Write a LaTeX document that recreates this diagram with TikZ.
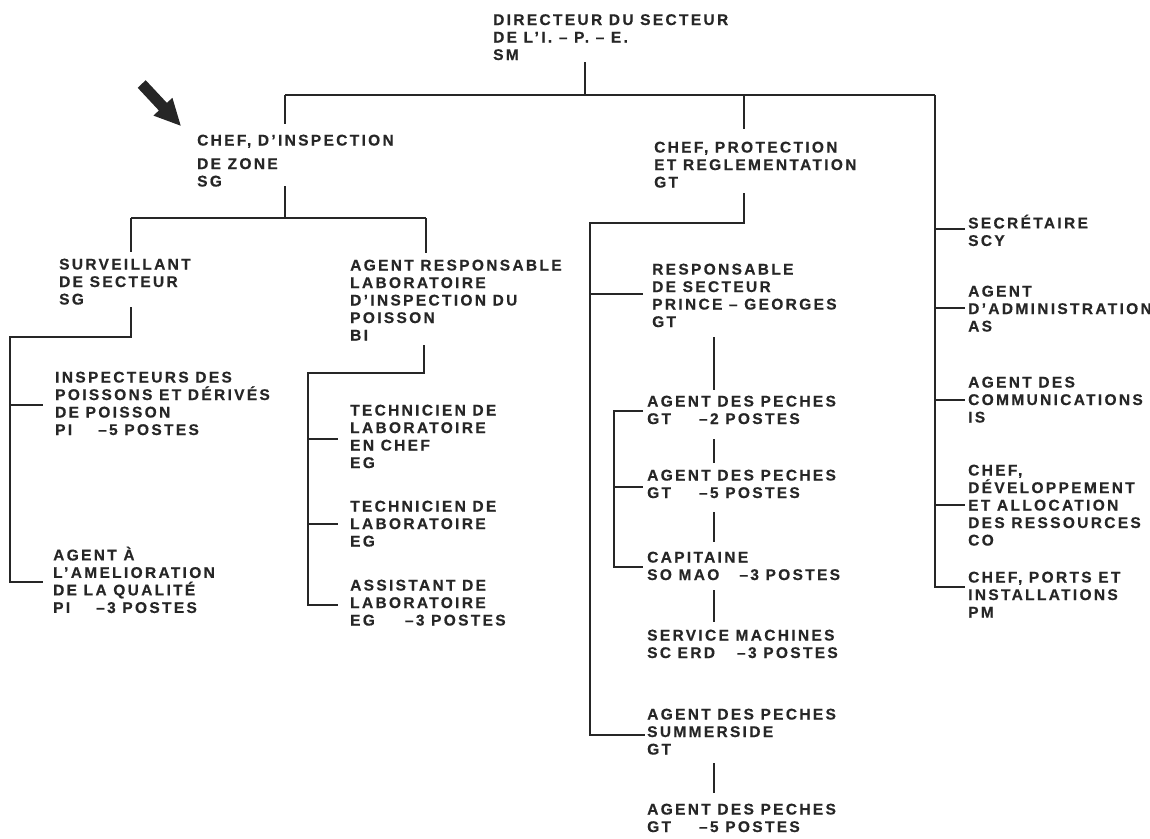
\documentclass[tikz,border=0pt]{standalone}
\usepackage{fontspec}
\newfontfamily\orgfont{Liberation Sans Bold}[LetterSpace=15, FakeBold=0.5]
\definecolor{ink}{HTML}{262626}
\tikzset{
  blk/.style={font=\orgfont\fontsize{15.5}{17.5}\selectfont, align=left, inner sep=0pt,
    anchor=north west, yshift=14pt, text=ink, execute at begin node={\rule{0pt}{14pt}}},
  ln/.style={draw=ink, line width=1.4pt},
}
\begin{document}
\begin{tikzpicture}[x=1pt,y=-1pt]
\useasboundingbox (0,0) rectangle (1150,838);
% text blocks (coordinates = baseline of first line)
\node[blk] (dir) at (493,28) {DIRECTEUR DU SECTEUR\\DE L’I. – P. – E.\\SM};
\node[blk] (chefinsp) at (197,148.5) {CHEF, D’INSPECTION\\[6pt]DE ZONE\\SG};
\node[blk] (chefprot) at (654,155.5) {CHEF, PROTECTION\\ET REGLEMENTATION\\GT};
\node[blk] (surv) at (59,272.5) {SURVEILLANT\\DE SECTEUR\\SG};
\node[blk] (agentresp) at (350,273.5) {AGENT RESPONSABLE\\LABORATOIRE\\D’INSPECTION DU\\POISSON\\BI};
\node[blk] (insp) at (55,385.5) {INSPECTEURS DES\\POISSONS ET DÉRIVÉS\\DE POISSON\\PI\hspace{26pt}–5 POSTES};
\node[blk] (agentA) at (53,560.5) {AGENT À\\L’AMELIORATION\\DE LA QUALITÉ\\PI\hspace{26pt}–3 POSTES};
\node[blk] (tech1) at (350,418.5) {TECHNICIEN DE\\LABORATOIRE\\EN CHEF\\EG};
\node[blk] (tech2) at (350,514.5) {TECHNICIEN DE\\LABORATOIRE\\EG};
\node[blk] (assist) at (350,593.5) {ASSISTANT DE\\LABORATOIRE\\EG\hspace{30pt}–3 POSTES};
\node[blk] (resp) at (652,277.5) {RESPONSABLE\\DE SECTEUR\\PRINCE – GEORGES\\GT};
\node[blk] (ap2) at (647,409.5) {AGENT DES PECHES\\GT\hspace{28pt}–2 POSTES};
\node[blk] (ap5) at (647,483.5) {AGENT DES PECHES\\GT\hspace{28pt}–5 POSTES};
\node[blk] (cap) at (647,565.5) {CAPITAINE\\SO MAO\hspace{20pt}–3 POSTES};
\node[blk] (serv) at (647,643.5) {SERVICE MACHINES\\SC ERD\hspace{22pt}–3 POSTES};
\node[blk] (summ) at (647,722.5) {AGENT DES PECHES\\SUMMERSIDE\\GT};
\node[blk] (ap5b) at (647,817.5) {AGENT DES PECHES\\GT\hspace{28pt}–5 POSTES};
\node[blk] (secr) at (968,228.5) {SECRÉTAIRE\\SCY};
\node[blk] (admin) at (968,299.5) {AGENT\\D’ADMINISTRATION\\AS};
\node[blk] (comm) at (968,390.5) {AGENT DES\\COMMUNICATIONS\\IS};
\node[blk] (dev) at (968,478.5) {CHEF,\\DÉVELOPPEMENT\\ET ALLOCATION\\DES RESSOURCES\\CO};
\node[blk] (ports) at (968,585.5) {CHEF, PORTS ET\\INSTALLATIONS\\PM};
% pointer arrow
\fill[ink] (145.7,80.2) -- (166.9,102.9) -- (172.4,97.8) -- (180.7,125.7) -- (153.4,115.6) -- (158.9,110.5) -- (137.7,87.8) -- cycle;
% junction coordinates
\coordinate (dirS) at (585,62);
\coordinate (busD) at (585,95);
\coordinate (busL) at (285,95);
\coordinate (busM) at (744,95);
\coordinate (busR) at (935,95);
\coordinate (chefinspN) at (285,124);
\coordinate (chefprotN) at (744,129);
\coordinate (rightEnd) at (935,587);
\coordinate (portsW) at (965,587);
\coordinate (secrW) at (965,229);
\coordinate (adminW) at (965,308);
\coordinate (commW) at (965,400);
\coordinate (devW) at (965,505);
% top level
\draw[ln] (dirS) -- (busD);
\draw[ln] (busL) -- (busR);
\draw[ln] (busL) -- (chefinspN);
\draw[ln] (busM) -- (chefprotN);
\draw[ln] (busR) -- (rightEnd) -- (portsW);
\draw[ln] (secrW -| busR) -- (secrW);
\draw[ln] (adminW -| busR) -- (adminW);
\draw[ln] (commW -| busR) -- (commW);
\draw[ln] (devW -| busR) -- (devW);
% zone inspection branch
\coordinate (ciS) at (285,186);
\coordinate (ciBus) at (285,218);
\coordinate (ciL) at (131,218);
\coordinate (ciR) at (426,218);
\coordinate (survN) at (131,252);
\coordinate (arN) at (426,253);
\draw[ln] (ciS) -- (ciBus);
\draw[ln] (ciL) -- (ciR);
\draw[ln] (ciL) -- (survN);
\draw[ln] (ciR) -- (arN);
% surveillant subtree
\coordinate (survS) at (131,307);
\coordinate (survBus) at (131,337);
\coordinate (survL) at (10,337);
\coordinate (survEnd) at (10,582);
\coordinate (inspW) at (43,405);
\coordinate (agentAW) at (43,582);
\draw[ln] (survS) -- (survBus) -- (survL) -- (survEnd) -- (agentAW);
\draw[ln] (inspW -| survL) -- (inspW);
% laboratory subtree
\coordinate (arS) at (424,345);
\coordinate (arBus) at (424,373);
\coordinate (arL) at (308,373);
\coordinate (arEnd) at (308,605);
\coordinate (assistW) at (338,605);
\coordinate (tech1W) at (338,439);
\coordinate (tech2W) at (338,524);
\draw[ln] (arS) -- (arBus) -- (arL) -- (arEnd) -- (assistW);
\draw[ln] (tech1W -| arL) -- (tech1W);
\draw[ln] (tech2W -| arL) -- (tech2W);
% protection subtree
\coordinate (cpS) at (744,193);
\coordinate (cpBus) at (744,223);
\coordinate (cpL) at (590,223);
\coordinate (cpEnd) at (590,735);
\coordinate (summW) at (645,735);
\coordinate (respW) at (643,294);
\draw[ln] (cpS) -- (cpBus) -- (cpL) -- (cpEnd) -- (summW);
\draw[ln] (respW -| cpL) -- (respW);
% prince-georges subtree
\coordinate (respS) at (714,337);
\coordinate (respS2) at (714,390);
\draw[ln] (respS) -- (respS2);
\coordinate (subTop) at (614,411);
\coordinate (subBot) at (614,567);
\coordinate (ap2W) at (643,411);
\coordinate (ap5W) at (643,487);
\coordinate (capW) at (643,567);
\draw[ln] (ap2W) -- (subTop) -- (subBot) -- (capW);
\draw[ln] (ap5W -| subTop) -- (ap5W);
\coordinate (v1a) at (714,439);
\coordinate (v1b) at (714,463);
\coordinate (v2a) at (714,512);
\coordinate (v2b) at (714,542);
\coordinate (v3a) at (714,590);
\coordinate (v3b) at (714,622);
\draw[ln] (v1a) -- (v1b);
\draw[ln] (v2a) -- (v2b);
\draw[ln] (v3a) -- (v3b);
% summerside
\coordinate (v4a) at (714,763);
\coordinate (v4b) at (714,793);
\draw[ln] (v4a) -- (v4b);
\end{tikzpicture}
\end{document}
